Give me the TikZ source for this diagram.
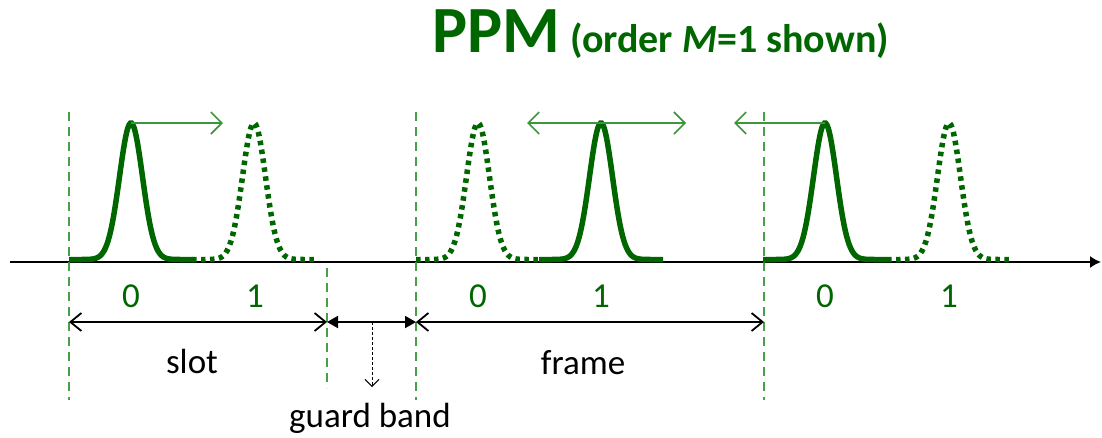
\documentclass[tikz,border=0pt]{standalone}
\usepackage{fontspec}
\setmainfont{Carlito}
\usetikzlibrary{arrows.meta}
\definecolor{pgreen}{RGB}{0,102,0}
\definecolor{agreen}{RGB}{60,150,60}
\definecolor{dgreen}{RGB}{70,160,70}
\newcommand\pulsedraw[2]{%
  \draw[#1] plot[domain=-62:62,samples=100,smooth] ({#2+\x},{259.5-136.5*exp(-0.5*(\x/11.5)*(\x/11.5))});}
\begin{document}
\begin{tikzpicture}[x=1pt,y=-1pt,
  pulseline/.style={line width=5.5pt, draw=pgreen},
  dotline/.style={pulseline, dash pattern=on 4.5pt off 4.5pt},
  divider/.style={draw=dgreen, line width=1.5pt, dash pattern=on 9pt off 6pt},
  shiftarrow/.style={draw=agreen, line width=1.6pt, -{Straight Barb[length=11pt,width=22pt,line width=1.6pt]}},
  dimopen/.style={draw=black, line width=1.8pt, {Straight Barb[length=11pt,width=18pt,line width=1.8pt]}-{Straight Barb[length=11pt,width=18pt,line width=1.8pt]}},
  dimfill/.style={draw=black, line width=1.8pt, {Triangle[length=11pt,width=12pt]}-{Triangle[length=11pt,width=12pt]}},
  pointer/.style={draw=black, line width=0.9pt, dash pattern=on 3pt off 2pt, -{Straight Barb[length=7pt,width=14pt,line width=0.9pt]}},
  digit/.style={text=pgreen, font=\fontsize{35}{40}\selectfont, anchor=base, inner sep=0pt},
  label/.style={text=black, font=\fontsize{35}{40}\selectfont, anchor=base, inner sep=0pt}
]
\useasboundingbox (0,0) rectangle (1102,437);

% axis
\coordinate (axL) at (10,262);
\coordinate (axR) at (1101,262);
\draw[line width=1.5pt, -{Latex[length=11pt,width=12pt]}] (axL) -- (axR);

% dividers
\coordinate (d1t) at (69,112);  \coordinate (d1b) at (69,400);
\coordinate (d2t) at (327,268); \coordinate (d2b) at (327,388);
\coordinate (d3t) at (416,112); \coordinate (d3b) at (416,400);
\coordinate (d4t) at (764,112); \coordinate (d4b) at (764,400);
\draw[divider] (d1t) -- (d1b);
\draw[divider] (d2t) -- (d2b);
\draw[divider] (d3t) -- (d3b);
\draw[divider] (d4t) -- (d4b);

% pulses
\pulsedraw{pulseline}{131}
\pulsedraw{dotline}{254}
\pulsedraw{dotline}{478}
\pulsedraw{pulseline}{601}
\pulsedraw{pulseline}{825}
\pulsedraw{dotline}{949}

% shift arrows
\coordinate (p1) at (131,123); \coordinate (s1) at (223,123);
\coordinate (s2a) at (601,123); \coordinate (s2l) at (527,123); \coordinate (s2r) at (686,123);
\coordinate (p3) at (825,123); \coordinate (s3) at (734,123);
\draw[shiftarrow] (p1) -- (s1);
\draw[shiftarrow] (s2a) -- (s2l);
\draw[shiftarrow] (s2a) -- (s2r);
\draw[shiftarrow] (p3) -- (s3);

% digits
\node[digit] (n10) at (131,307) {0};
\node[digit] (n11) at (255,307) {1};
\node[digit] (n20) at (478,307) {0};
\node[digit] (n21) at (601,307) {1};
\node[digit] (n30) at (825,307) {0};
\node[digit] (n31) at (949,307) {1};

% dimension arrows
\coordinate (a1) at (69,322); \coordinate (a2) at (327,322);
\coordinate (a3) at (416,322); \coordinate (a4) at (764,322);
\coordinate (gm) at (372,322); \coordinate (gb) at (372,387);
\draw[dimopen] (a1) -- (a2);
\draw[dimfill] (a2) -- (a3);
\draw[dimopen] (a3) -- (a4);
\draw[pointer] (gm) -- (gb);

\node[label] (slot) at (192,373) {slot};
\node[label] (frame) at (583,374) {frame};
\node[label] (guard) at (370,427) {guard band};

% title
\node[text=pgreen, font=\bfseries\fontsize{66}{70}\selectfont, anchor=base west, inner sep=0pt] (ppm) at (432,52) {PPM};
\node[text=pgreen, font=\bfseries\fontsize{40}{44}\selectfont, anchor=base west, inner sep=0pt] (sub) at (570,52) {(order \textit{M}=1 shown)};
\end{tikzpicture}
\end{document}
